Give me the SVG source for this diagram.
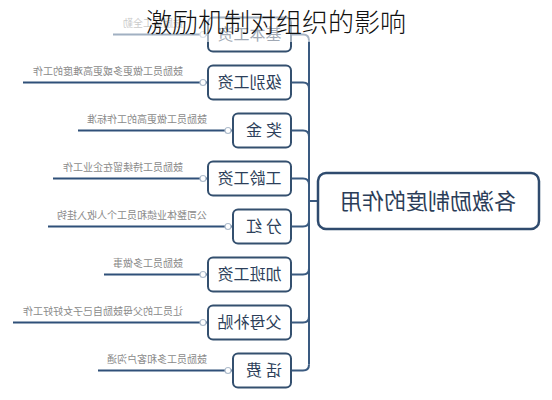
<svg xmlns="http://www.w3.org/2000/svg" width="552" height="400" viewBox="0 0 552 400">
<style>
.box{fill:#fff;stroke:#34506f;stroke-width:2}
.root{fill:#fff;stroke:#2f4b6e;stroke-width:2.5}
.nt{font-family:"Noto Sans CJK SC","Noto Sans",sans-serif;font-size:16px;fill:#2d3f5a;text-anchor:middle}
.rt{font-family:"Noto Sans CJK SC","Noto Sans",sans-serif;font-size:22px;fill:#2b3d58;text-anchor:middle}
.lt{font-family:"Noto Sans CJK SC","Noto Sans",sans-serif;font-size:10px;fill:#8a8a8a}
.br{fill:none;stroke:#3a5a80;stroke-width:2}
.lf{fill:none;stroke:#2f5079;stroke-width:2}
.dot{fill:#fff;stroke:#aebccc;stroke-width:1.2}
.title{font-family:"Noto Sans CJK SC","Noto Sans",sans-serif;font-size:26px;font-weight:300;fill:#111;text-anchor:middle}
</style>
<rect width="552" height="400" fill="#fff"/>
<g transform="matrix(-1 0 0 1 552 0)">
  <g id="connectors">
    <path class="br" d="M243 40.5 V364.5"/>
    <path class="br" d="M261 34.5 H249 Q243 34.5 243 40.5"/>
    <path class="br" d="M261 82.5 H249 Q243 82.5 243 88.5"/>
    <path class="br" d="M261 130.5 H249 Q243 130.5 243 136.5"/>
    <path class="br" d="M261 178.5 H249 Q243 178.5 243 184.5"/>
    <path class="br" d="M261 226.5 H249 Q243 226.5 243 220.5"/>
    <path class="br" d="M261 274.5 H249 Q243 274.5 243 268.5"/>
    <path class="br" d="M261 322.5 H249 Q243 322.5 243 316.5"/>
    <path class="br" d="M261 370.5 H249 Q243 370.5 243 364.5"/>
    <path class="br" d="M243 201 H234"/>
    <path class="lf" d="M344 34.5 H439"/><circle class="dot" cx="349" cy="34.5" r="3"/>
    <path class="lf" d="M344 82.5 H529"/><circle class="dot" cx="349" cy="82.5" r="3"/>
    <path class="lf" d="M319 130.5 H474"/><circle class="dot" cx="324" cy="130.5" r="3"/>
    <path class="lf" d="M344 178.5 H499"/><circle class="dot" cx="349" cy="178.5" r="3"/>
    <path class="lf" d="M319 226.5 H504"/><circle class="dot" cx="324" cy="226.5" r="3"/>
    <path class="lf" d="M344 274.5 H448"/><circle class="dot" cx="349" cy="274.5" r="3"/>
    <path class="lf" d="M344 322.5 H539"/><circle class="dot" cx="349" cy="322.5" r="3"/>
    <path class="lf" d="M319 370.5 H454"/><circle class="dot" cx="324" cy="370.5" r="3"/>
  </g>
  <g id="root">
    <rect class="root" x="13" y="173" width="221" height="56" rx="8"/>
    <text class="rt" x="124" y="209">各激励制度的作用</text>
  </g>
  <g id="n1"><rect class="box" x="261" y="17.5" width="83" height="34" rx="5"/><text class="nt" x="302.5" y="40">基本工资</text><text class="lt" x="369" y="27">鼓励员工全勤</text></g>
  <g id="n2"><rect class="box" x="261" y="65.5" width="83" height="34" rx="5"/><text class="nt" x="302.5" y="88">级别工资</text><text class="lt" x="369" y="75">鼓励员工做更多或更高难度的工作</text></g>
  <g id="n3"><rect class="box" x="261" y="113.5" width="58" height="34" rx="5"/><text class="nt" x="290" y="136" letter-spacing="4">奖金</text><text class="lt" x="345" y="123">鼓励员工做更高的工作标准</text></g>
  <g id="n4"><rect class="box" x="261" y="161.5" width="83" height="34" rx="5"/><text class="nt" x="302.5" y="184">工龄工资</text><text class="lt" x="369" y="171">鼓励员工持续留在企业工作</text></g>
  <g id="n5"><rect class="box" x="261" y="209.5" width="58" height="34" rx="5"/><text class="nt" x="290" y="232" letter-spacing="4">分红</text><text class="lt" x="345" y="219">公司整体业绩和员工个人收入挂钩</text></g>
  <g id="n6"><rect class="box" x="261" y="257.5" width="83" height="34" rx="5"/><text class="nt" x="302.5" y="280">加班工资</text><text class="lt" x="369" y="267">鼓励员工多做事</text></g>
  <g id="n7"><rect class="box" x="261" y="305.5" width="83" height="34" rx="5"/><text class="nt" x="302.5" y="328">父母补贴</text><text class="lt" x="369" y="315">让员工的父母鼓励自己子女好好工作</text></g>
  <g id="n8"><rect class="box" x="261" y="353.5" width="58" height="34" rx="5"/><text class="nt" x="290" y="376" letter-spacing="4">话费</text><text class="lt" x="345" y="363">鼓励员工多和客户沟通</text></g>
</g>
<rect x="0" y="0" width="552" height="42" fill="#fff" fill-opacity="0.55"/>
<g id="title"><text class="title" x="276" y="32">激励机制对组织的影响</text></g>
</svg>
